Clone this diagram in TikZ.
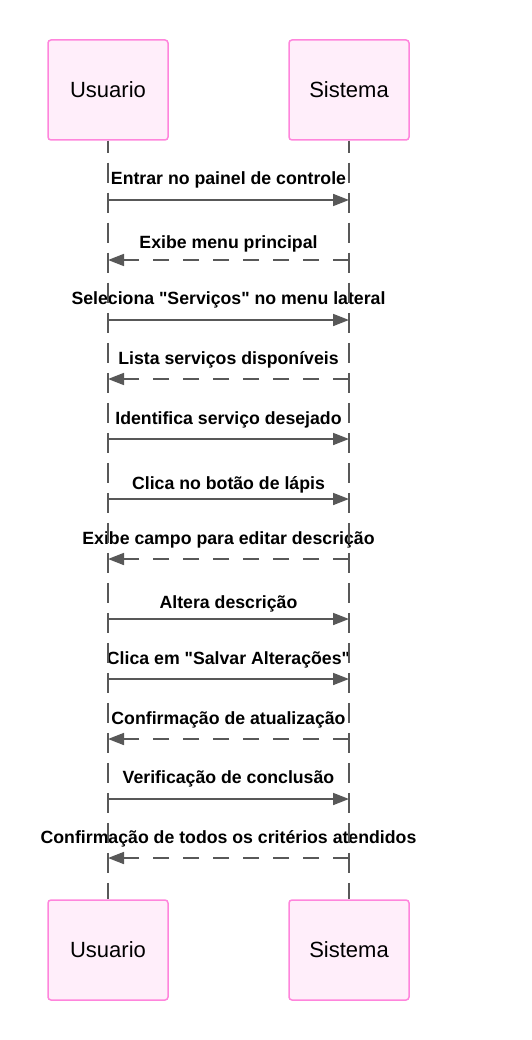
\documentclass[tikz,border=0pt]{standalone}
\usepackage{fontspec}
\setmainfont{Liberation Sans}[Ligatures=TeXOff]
\usetikzlibrary{arrows.meta}
\definecolor{actorfill}{RGB}{255,238,250}
\definecolor{actorline}{RGB}{255,133,220}
\definecolor{msggray}{RGB}{88,88,88}
\begin{document}
\begin{tikzpicture}[x=1pt,y=-1pt,
    actor/.style={draw=actorline,fill=actorfill,line width=1.5pt,rounded corners=3pt,
        minimum width=120pt,minimum height=100pt,font=\fontsize{22}{26}\selectfont},
    msglabel/.style={anchor=base,inner sep=0pt,font=\fontsize{17.7}{20}\selectfont\bfseries},
    lifeline/.style={draw=msggray,line width=1.6pt,dash pattern=on 20pt off 10pt,dash phase=8pt},
    call/.style={draw=msggray,line width=1.7pt,-{Triangle[length=16pt,width=12pt]}},
    reply/.style={call,dash pattern=on 16pt off 14pt}]
    \useasboundingbox (0,0) rectangle (531,1040);

    % Labels of the messages
    \node[msglabel] (l1) at (228.5,185) {Entrar no painel de controle};
    \node[msglabel] (l2) at (228.5,249) {Exibe menu principal};
    \node[msglabel] (l3) at (228.5,304) {Seleciona "Serviços" no menu lateral};
    \node[msglabel] (l4) at (228.5,364) {Lista serviços disponíveis};
    \node[msglabel] (l5) at (228.5,424) {Identifica serviço desejado};
    \node[msglabel] (l6) at (228.5,489) {Clica no botão de lápis};
    \node[msglabel] (l7) at (228.5,544) {Exibe campo para editar descrição};
    \node[msglabel] (l8) at (228.5,608) {Altera descrição};
    \node[msglabel] (l9) at (228.5,664) {Clica em "Salvar Alterações"};
    \node[msglabel] (l10) at (228.5,724) {Confirmação de atualização};
    \node[msglabel] (l11) at (228.5,783) {Verificação de conclusão};
    \node[msglabel] (l12) at (228.5,843) {Confirmação de todos os critérios atendidos};

    % Actors
    \node[actor] (u1) at (108,90) {Usuario};
    \node[actor] (s1) at (349,90) {Sistema};
    \node[actor] (u2) at (108,950) {Usuario};
    \node[actor] (s2) at (349,950) {Sistema};

    % Lifelines
    \draw[lifeline] (u1.south) -- (u2.north);
    \draw[lifeline] (s1.south) -- (s2.north);

    % Messages
    \draw[call] (u1 |- 0,200) -- (s1 |- 0,200);
    \draw[reply] (s1 |- 0,260) -- (u1 |- 0,260);
    \draw[call] (u1 |- 0,320) -- (s1 |- 0,320);
    \draw[reply] (s1 |- 0,379) -- (u1 |- 0,379);
    \draw[call] (u1 |- 0,439) -- (s1 |- 0,439);
    \draw[call] (u1 |- 0,499) -- (s1 |- 0,499);
    \draw[reply] (s1 |- 0,559) -- (u1 |- 0,559);
    \draw[call] (u1 |- 0,619) -- (s1 |- 0,619);
    \draw[call] (u1 |- 0,679) -- (s1 |- 0,679);
    \draw[reply] (s1 |- 0,739) -- (u1 |- 0,739);
    \draw[call] (u1 |- 0,799) -- (s1 |- 0,799);
    \draw[reply] (s1 |- 0,858) -- (u1 |- 0,858);
\end{tikzpicture}
\end{document}
